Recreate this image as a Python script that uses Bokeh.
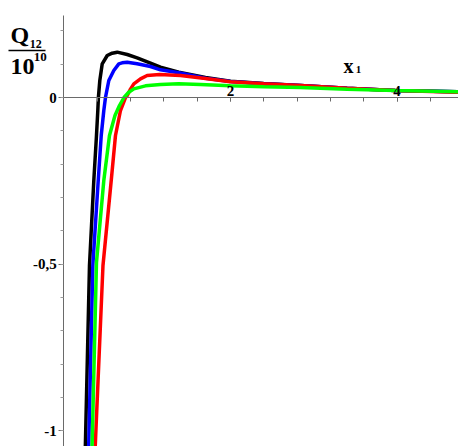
from bokeh.plotting import figure
from bokeh.models import FixedTicker, Label
from bokeh.embed import file_html
from bokeh.resources import INLINE

# ---- data ----
black_x = [0.253, 0.260, 0.308, 0.360, 0.392, 0.408, 0.415, 0.432, 0.461, 0.521, 0.580, 0.641, 0.761, 0.880, 1.040, 1.160, 1.380, 1.700, 2.000, 2.400, 2.840, 3.400, 3.980, 4.740]
black_y = [-1.100, -1.029, -0.504, -0.249, -0.114, -0.039, 0.000, 0.051, 0.101, 0.126, 0.133, 0.136, 0.129, 0.119, 0.103, 0.091, 0.076, 0.060, 0.049, 0.042, 0.036, 0.028, 0.021, 0.017]

blue_x = [0.293, 0.300, 0.348, 0.413, 0.449, 0.480, 0.500, 0.540, 0.600, 0.660, 0.700, 0.761, 0.880, 1.040, 1.160, 1.380, 1.700, 2.000, 2.400, 2.840, 3.400, 3.980, 4.740]
blue_y = [-1.100, -1.029, -0.504, -0.249, -0.114, -0.039, 0.000, 0.051, 0.081, 0.101, 0.104, 0.106, 0.101, 0.093, 0.083, 0.074, 0.058, 0.048, 0.041, 0.036, 0.028, 0.021, 0.017]

red_x = [0.368, 0.380, 0.470, 0.569, 0.620, 0.680, 0.740, 0.761, 0.800, 0.840, 0.920, 1.000, 1.150, 1.400, 1.700, 2.000, 2.400, 2.840, 3.400, 3.980, 4.740]
red_y = [-1.100, -1.029, -0.504, -0.249, -0.114, -0.039, 0.000, 0.006, 0.025, 0.041, 0.056, 0.066, 0.069, 0.066, 0.057, 0.047, 0.041, 0.036, 0.028, 0.021, 0.016]

green_x = [0.334, 0.341, 0.392, 0.480, 0.548, 0.614, 0.668, 0.722, 0.776, 0.840, 0.980, 1.160, 1.376, 1.640, 2.000, 2.400, 2.840, 3.400, 3.980, 4.740]
green_y = [-1.100, -1.029, -0.495, -0.249, -0.114, -0.054, -0.024, 0.000, 0.015, 0.026, 0.035, 0.039, 0.041, 0.039, 0.035, 0.032, 0.030, 0.025, 0.021, 0.017]

x_major = [2, 4]
x_minor = [0.4, 0.8, 1.2, 1.6, 2.0, 2.4, 2.8, 3.2, 3.6, 4.0, 4.4]
y_major = [-1, -0.5, 0]
y_minor = [-1.0, -0.9, -0.8, -0.7, -0.6, -0.5, -0.4, -0.3, -0.2, -0.1, 0.0, 0.1, 0.2]
y_labels = {-1: "-1", -0.5: "-0,5", 0: "0"}

FONT = "Liberation Serif"

p = figure(width=458, height=446, output_backend="svg", toolbar_location=None,
           x_range=(-0.760, 4.737), y_range=(-1.047, 0.291),
           x_axis_location="above", min_border=0)
p.min_border_left = 0
p.min_border_right = 0
p.min_border_top = 0
p.min_border_bottom = 0
p.outline_line_color = None
p.grid.visible = False
p.background_fill_color = "white"
p.border_fill_color = "white"

# x axis through y = 0
xa = p.xaxis[0]
xa.fixed_location = 0
xa.bounds = (-0.04, 6)
xa.ticker = FixedTicker(ticks=x_major, minor_ticks=x_minor)
xa.axis_line_color = "#6a6a6a"
xa.axis_line_width = 1
xa.major_tick_in = 4
xa.major_tick_out = 0
xa.minor_tick_in = 4
xa.minor_tick_out = 0
xa.major_tick_line_color = "#6a6a6a"
xa.minor_tick_line_color = "#6a6a6a"
xa.major_label_text_font = FONT
xa.major_label_text_font_style = "bold"
xa.major_label_text_font_size = "15px"
xa.major_label_text_color = "black"
xa.major_label_standoff = 2

# y axis through x = 0
ya = p.yaxis[0]
ya.fixed_location = 0
ya.bounds = (-1.2, 0.246)
ya.ticker = FixedTicker(ticks=y_major, minor_ticks=y_minor)
ya.major_label_overrides = y_labels
ya.axis_line_color = "#6a6a6a"
ya.axis_line_width = 1
ya.major_tick_in = 0
ya.major_tick_out = 5
ya.minor_tick_in = 0
ya.minor_tick_out = 3
ya.major_tick_line_color = "#6a6a6a"
ya.minor_tick_line_color = "#9a9a9a"
ya.major_label_text_font = FONT
ya.major_label_text_font_style = "bold"
ya.major_label_text_font_size = "15px"
ya.major_label_text_color = "black"
ya.major_label_standoff = 2

# curves
p.line(black_x, black_y, line_color="#000000", line_width=3.5)
p.line(blue_x, blue_y, line_color="#0000ff", line_width=3.5)
p.line(red_x, red_y, line_color="#ff0000", line_width=3.5)
p.line(green_x, green_y, line_color="#00ff00", line_width=3.5)

# y axis title as a fraction Q12 / 10^10
def lab(x, y, text, size, **kw):
    p.add_layout(Label(x=x, y=y, text=text, text_font=FONT, text_font_style="bold",
                       text_font_size=size, text_color="black",
                       text_baseline="alphabetic", **kw))

lab(-0.640, 0.189, "Q", "24px")
lab(-0.410, 0.162, "12", "12px")
p.segment(x0=[-0.664], y0=[0.141], x1=[-0.220], y1=[0.141], line_color="black", line_width=1.3)
lab(-0.640, 0.093, "10", "24px")
lab(-0.362, 0.123, "10", "13px")

# x axis title x1
lab(3.357, 0.096, "x", "20px")
lab(3.505, 0.084, "1", "11px")

open("out.html", "w").write(file_html(p, INLINE))
